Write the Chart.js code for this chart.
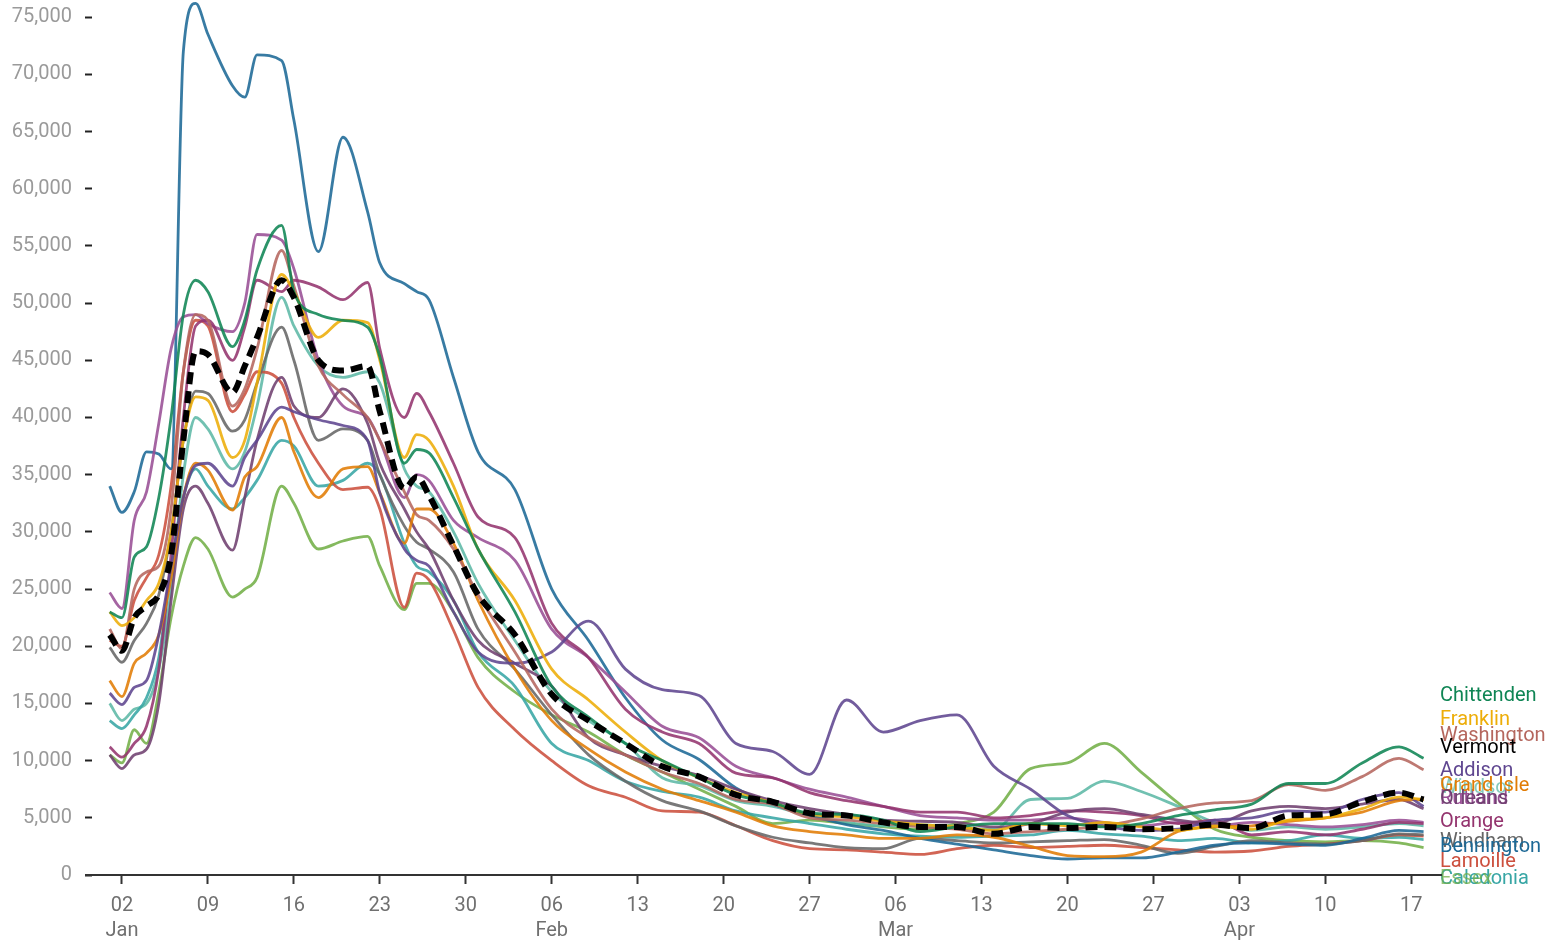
<!DOCTYPE html>
<html>
<head>
<meta charset="utf-8">
<script src="https://cdn.jsdelivr.net/npm/chart.js@4.4.1/dist/chart.umd.min.js"></script>
<style>
  html, body { margin: 0; padding: 0; background: #ffffff; }
  #wrap { width: 1558px; height: 943px; position: relative; }
</style>
</head>
<body>
<div id="wrap"><canvas id="c" width="1558" height="943"></canvas></div>
<script>
// Day index (0 = 1 Jan 2022) of each sampled point
const days = [0,1,2,3,4,5,6,7,8,10,11,12,14,15,17,19,21,22,24,25,26,28,30,33,36,39,42,45,48,51,54,57,60,63,66,69,72,75,78,81,84,87,90,93,96,99,102,105,107];

const vermont    = [21000,19600,22500,23500,24500,28000,38000,45800,45500,42200,44500,47000,52000,50500,45000,44100,44500,40500,33800,34800,33200,28800,24500,21000,15800,13500,11500,9500,8600,7000,6400,5400,5200,4600,4200,4200,3600,4200,4100,4200,4000,4100,4400,4100,5200,5300,6400,7200,6600];
const bennington = [34000,31700,33500,37000,36800,35500,72000,76200,73500,69000,68000,71700,71200,66000,54500,64500,58000,53500,51700,51000,50300,43500,37000,33700,25000,20500,15500,11800,10100,7600,6200,5200,4400,3900,3200,2700,2200,1700,1400,1500,1500,2000,2600,2800,2700,2600,3200,3900,3800];
const chittenden = [23000,22500,27800,28700,33000,40000,49000,52000,51000,46200,48500,52900,56800,51000,49000,48500,47900,45300,36000,37200,36900,33000,28500,23000,16500,13800,11500,10000,8500,7000,6300,5400,5300,4800,3800,4200,4500,4500,4500,4200,4500,5200,5700,6200,8000,8000,9800,11200,10200];
const franklin   = [23000,21800,22500,24000,25500,30000,38000,41800,41500,36500,38000,43000,52500,51000,47000,48500,48300,45000,36500,38500,38000,34000,28500,24000,18000,15300,12500,10000,8500,7200,6300,5300,5100,4700,4400,4200,3900,4500,4300,4600,4200,3900,4300,4000,4800,5000,5800,6800,6600];
const washington = [21500,19800,25000,26500,27000,32000,44000,49000,48500,41000,42500,46000,54600,51500,44500,42000,40000,38000,33500,31500,31000,28500,24500,19500,14500,12000,10500,9000,8000,6600,6200,5000,4800,4500,4200,4000,3600,3800,4000,4300,4900,5800,6300,6500,7900,7400,8600,10200,9200];
const addison    = [15900,14900,16400,17000,21000,27000,33000,35800,36000,34000,36500,38000,40900,40500,39800,39300,38000,33400,28500,27500,27000,23000,19500,18500,19500,22200,18000,16200,15700,11500,10800,8800,15300,12500,13500,14000,9500,7500,5200,4300,3900,4000,4800,5000,5600,5500,6600,7200,6000];
const grandIsle  = [17000,15600,18500,19400,21000,26000,33000,36000,35400,31900,34800,35700,40000,37000,33000,35500,35700,33400,29000,32000,32000,29000,24000,18000,13500,11000,9000,7500,6500,5500,4300,3800,3500,3200,3200,3500,3300,2500,1700,1600,2000,3800,4200,4300,4700,5000,5500,6500,6600];
const orleans    = [10500,9300,10500,11000,15000,24000,32000,34000,32500,28400,33000,38000,43500,41000,40000,42500,39500,36000,32000,30000,28500,24000,20500,18500,16500,12000,10500,9500,8700,7500,6500,5800,5300,4800,4700,4600,4200,4500,5500,5800,5300,4800,4500,5600,6000,5800,6200,6600,5800];
const orange     = [11200,10300,11500,13000,18000,28000,40000,48000,48500,45000,47900,52000,51000,52000,51400,50300,51800,46000,40000,42100,40500,36000,31300,29500,22000,19000,14500,12500,11500,8900,8500,7200,6500,6000,5500,5500,5000,5200,5600,5500,5200,4500,4800,3500,3800,3500,4000,4600,4500];
const rutland    = [24700,23300,31000,33500,39500,46000,48800,49000,48200,47500,50000,56000,55500,53000,45000,41000,40000,38000,33000,35000,34500,31000,29500,27500,21500,19000,16000,13000,12000,9500,8500,7500,6800,6000,5200,5000,4800,4800,5000,4600,4300,4600,4300,4600,4400,4200,4400,4800,4600];
const windham    = [19900,18600,20500,22000,24500,30000,38000,42300,42100,38800,39800,43000,47900,45000,38000,39000,38000,35000,30500,29100,28500,26500,21500,18000,14000,10500,8200,6500,5600,4300,3300,2800,2400,2300,3200,3000,2800,2900,3000,3100,2600,1900,2500,3000,2800,2700,3000,3600,3500];
const lamoille   = [20500,20000,24000,26000,28000,34000,44000,48500,48000,40500,42000,44000,43000,40000,36000,33700,33900,32000,23400,26400,25800,21400,16400,12700,10000,7800,6800,5600,5500,4300,3000,2300,2200,2000,1800,2300,2600,2400,2500,2600,2400,2200,2000,2100,2500,2700,3000,3500,3400];
const caledonia  = [13500,12800,14000,15500,19000,27000,33000,35500,34000,32000,33000,34500,38000,37500,34000,34500,36000,35000,29000,27000,26500,24000,19500,16500,11500,10000,8200,7300,6800,5600,5000,4500,4000,3600,3400,3300,3400,3500,3900,3600,3400,3000,3200,2800,3000,3500,3200,3300,3100];
const windsor    = [15000,13500,14500,15000,18000,25000,35000,40000,39000,35500,37000,41000,50500,48000,44500,43500,44000,43000,35500,34000,33500,30000,25500,20500,16000,13500,11500,8500,7800,6500,6000,5200,4600,4300,4400,4100,4000,6600,6700,8200,7300,6000,4600,3900,4200,4000,4200,4500,4300];
const essex      = [10500,9800,12700,11500,16000,22500,27000,29500,28500,24300,25000,26000,34000,32500,28500,29200,29600,27000,23200,25500,25500,23000,19000,16000,14000,12500,10500,9000,7500,6000,4500,4800,4500,4200,4000,4500,5500,9300,9800,11500,9000,6300,4000,3300,3000,2900,3000,2800,2400];

// Tick values
const xTickDays = [1,8,15,22,29,36,43,50,57,64,71,78,85,92,99,106];
const yTickValues = [0,5000,10000,15000,20000,25000,30000,35000,40000,45000,50000,55000,60000,65000,70000,75000];
const monthNames = ['Jan','Feb','Mar','Apr'];

// Series: name, values, colour, where its end label sits (value units)
const series = [
  { name: 'Vermont',    values: vermont,    color: '#000000', labelAt: 11100 },
  { name: 'Chittenden', values: chittenden, color: '#0F8554', labelAt: 15650 },
  { name: 'Franklin',   values: franklin,   color: '#EDAD08', labelAt: 13550 },
  { name: 'Washington', values: washington, color: '#B5675E', labelAt: 12150 },
  { name: 'Addison',    values: addison,    color: '#5F4690', labelAt: 9100 },
  { name: 'Grand Isle', values: grandIsle,  color: '#E17C05', labelAt: 7800 },
  { name: 'Orleans',    values: orleans,    color: '#6F4070', labelAt: 6650 },
  { name: 'Orange',     values: orange,     color: '#94346E', labelAt: 4650 },
  { name: 'Rutland',    values: rutland,    color: '#994E95', labelAt: 6650 },
  { name: 'Bennington', values: bennington, color: '#1D6996', labelAt: 2450 },
  { name: 'Windham',    values: windham,    color: '#666666', labelAt: 2900 },
  { name: 'Lamoille',   values: lamoille,   color: '#CC503E', labelAt: 1150 },
  { name: 'Caledonia',  values: caledonia,  color: '#38A6A5', labelAt: -350 },
  { name: 'Windsor',    values: windsor,    color: '#5DB8A6', labelAt: 7650 },
  { name: 'Essex',      values: essex,      color: '#73AF48', labelAt: -350 }
];
// label drawing order (first drawn = underneath)
const labelDrawOrder = ['Rutland','Windsor','Windham','Caledonia','Essex','Chittenden','Franklin','Washington','Vermont','Addison','Grand Isle','Orleans','Orange','Bennington','Lamoille'];

function hexA(hex, a) {
  const n = parseInt(hex.slice(1), 16);
  return `rgba(${(n>>16)&255},${(n>>8)&255},${n&255},${a})`;
}

const FONT = 'Roboto, "Noto Sans", sans-serif';

const endLabels = {
  id: 'endLabels',
  afterDatasetsDraw(chart) {
    const ctx = chart.ctx;
    const yS = chart.scales.y;
    ctx.save();
    ctx.font = '20px ' + FONT;
    ctx.textAlign = 'left';
    ctx.textBaseline = 'middle';
    labelDrawOrder.forEach(name => {
      const s = series.find(q => q.name === name);
      const a = (name === 'Essex' || name === 'Windsor') ? 0.75 : 1;
      ctx.fillStyle = s.name === 'Vermont' ? '#000' : hexA(s.color, a);
      ctx.fillText(s.name, chart.chartArea.right - 2, yS.getPixelForValue(s.labelAt));
    });
    ctx.restore();
  }
};

const axisLine = {
  id: 'axisLine',
  afterDraw(chart) {
    const ctx = chart.ctx, a = chart.chartArea;
    ctx.save();
    ctx.strokeStyle = '#333';
    ctx.lineWidth = 2;
    ctx.beginPath();
    ctx.moveTo(85, a.bottom);
    ctx.lineTo(a.right, a.bottom);
    ctx.stroke();
    ctx.restore();
  }
};

function build() {
  const datasets = series.map((s, i) => {
    const isVt = s.name === 'Vermont';
    return {
      label: s.name,
      data: days.map((d, k) => ({ x: d, y: s.values[k] })),
      borderColor: isVt ? '#000' : hexA(s.color, 0.88),
      backgroundColor: 'transparent',
      borderWidth: isVt ? 6 : 2.8,
      borderDash: isVt ? [12, 7] : [],
      pointRadius: 0,
      cubicInterpolationMode: 'monotone',
      fill: false,
      order: i
    };
  });

  new Chart(document.getElementById('c'), {
    type: 'line',
    data: { datasets },
    options: {
      responsive: false,
      animation: false,
      layout: { padding: { left: 0, right: 116, top: 0, bottom: 0 } },
      plugins: { legend: { display: false }, tooltip: { enabled: false } },
      scales: {
        x: {
          type: 'linear',
          min: -1.44,
          max: 108.5,
          afterBuildTicks(axis) { axis.ticks = xTickDays.map(v => ({ value: v })); },
          afterFit(axis) { axis.height = 68; axis.paddingLeft = 0; axis.paddingRight = 0; },
          border: { display: false },
          grid: { drawOnChartArea: false, drawTicks: true, tickLength: 9, tickColor: '#333', tickWidth: 2 },
          ticks: {
            autoSkip: false, maxRotation: 0, padding: 9,
            color: '#707070',
            font: { family: FONT, size: 20, lineHeight: 1.25 },
            callback(v) {
              const d = new Date(2022, 0, 1 + v);
              const dd = String(d.getDate()).padStart(2, '0');
              const prev = new Date(2022, 0, 1 + v - 7);
              if (v === xTickDays[0] || prev.getMonth() !== d.getMonth()) return [dd, monthNames[d.getMonth()]];
              return dd;
            }
          }
        },
        y: {
          min: 0,
          max: 76500,
          afterBuildTicks(axis) { axis.ticks = yTickValues.map(v => ({ value: v })); },
          afterFit(axis) { axis.width = 92; axis.paddingTop = 0; axis.paddingBottom = 0; },
          border: { display: false },
          grid: { drawOnChartArea: false, drawTicks: true, tickLength: 7, tickColor: '#222', tickWidth: 2 },
          ticks: {
            padding: 13,
            color: '#9a9a9a',
            font: { family: FONT, size: 20 },
            callback(v) { return v.toLocaleString('en-US'); }
          }
        }
      }
    },
    plugins: [endLabels, axisLine]
  });
}

if (document.fonts && document.fonts.load) {
  document.fonts.load('20px Roboto').then(build, build);
} else { build(); }
</script>
</body>
</html>
